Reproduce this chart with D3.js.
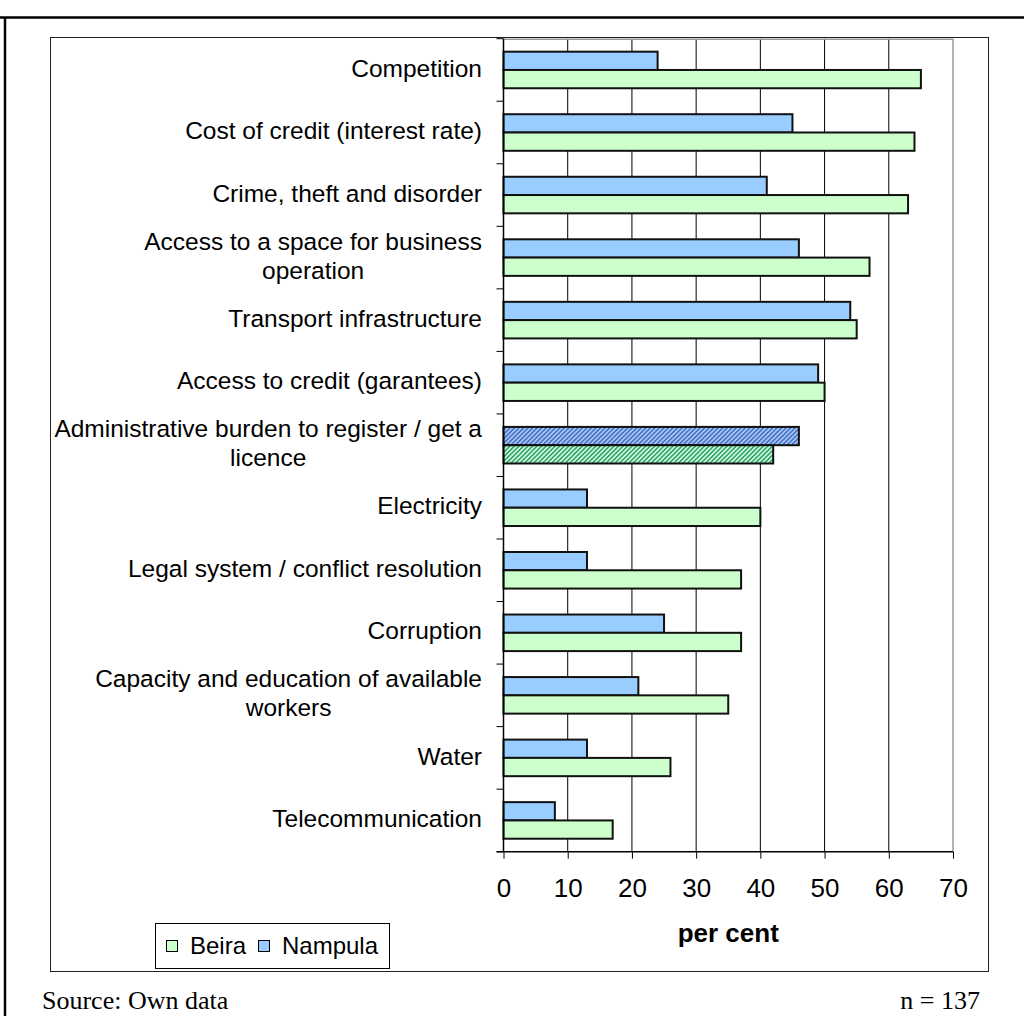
<!DOCTYPE html>
<html>
<head>
<meta charset="utf-8">
<script src="https://cdn.jsdelivr.net/npm/d3@7/dist/d3.min.js"></script>
<style>
  html, body { margin: 0; padding: 0; background: #fff; }
  svg { display: block; font-family: "Liberation Sans", Arial, sans-serif; }
</style>
</head>
<body>
<svg id="chart" width="1024" height="1016"></svg>
<script>
// Obstacles to doing business, share of respondents (per cent)
const categories = [
  "Competition",
  "Cost of credit (interest rate)",
  "Crime, theft and disorder",
  "Access to a space for business\noperation",
  "Transport infrastructure",
  "Access to credit (garantees)",
  "Administrative burden to register / get a\nlicence",
  "Electricity",
  "Legal system / conflict resolution",
  "Corruption",
  "Capacity and education of available\nworkers",
  "Water",
  "Telecommunication"
];
const nampula = [24, 45, 41, 46, 54, 49, 46, 13, 13, 25, 21, 13, 8];
const beira   = [65, 64, 63, 57, 55, 50, 42, 40, 37, 37, 35, 26, 17];
const xTicks  = [0, 10, 20, 30, 40, 50, 60, 70];
const seriesNames = ["Nampula", "Beira"];
const legendItems = ["Beira", "Nampula"];
const highlighted = "Administrative burden to register / get a\nlicence";

const colors = { Nampula: "#99CCFF", Beira: "#CCFFCC" };
const stripeColors = { Nampula: "#5468B8", Beira: "#2E9A78" };
const serif = "'Liberation Serif', 'Times New Roman', serif";

const svg = d3.select("#chart");

// page frame
svg.append("line").attr("x1", 0).attr("x2", 1024).attr("y1", 17.5).attr("y2", 17.5)
  .attr("stroke", "#000").attr("stroke-width", 2.5);
svg.append("line").attr("x1", 5).attr("x2", 5).attr("y1", 17).attr("y2", 1016)
  .attr("stroke", "#000").attr("stroke-width", 2.5);

// chart area box
svg.append("rect").attr("x", 50.5).attr("y", 37.5).attr("width", 938).attr("height", 934)
  .attr("fill", "#fff").attr("stroke", "#222").attr("stroke-width", 1);

// hatch patterns for the highlighted category
const defs = svg.append("defs");
seriesNames.forEach(s => {
  const p = defs.append("pattern").attr("id", "hatch-" + s)
    .attr("patternUnits", "userSpaceOnUse").attr("width", 3.2).attr("height", 3.2)
    .attr("patternTransform", "rotate(45)");
  p.append("rect").attr("width", 3.2).attr("height", 3.2).attr("fill", colors[s]);
  p.append("line").attr("x1", 0.8).attr("x2", 0.8).attr("y1", 0).attr("y2", 3.2)
    .attr("stroke", stripeColors[s]).attr("stroke-width", 1.5);
});

const x = d3.scaleLinear().domain([0, 70]).range([503.5, 953]);
const y = d3.scaleBand().domain(categories).range([38.7, 851.7]).padding(0);
const inner = d3.scaleBand().domain(seriesNames).range([0, y.bandwidth()])
  .paddingInner(0).paddingOuter(0.71);

// vertical gridlines
svg.append("g").selectAll("line").data(xTicks.filter(t => t > 0 && t < 70)).join("line")
  .attr("x1", d => x(d)).attr("x2", d => x(d))
  .attr("y1", 38.7).attr("y2", 851.7)
  .attr("stroke", "#000").attr("stroke-width", 1);

// plot area border (top and right)
svg.append("path")
  .attr("d", `M${x(0)},39.2H${x(70)}V851.7`)
  .attr("fill", "none").attr("stroke", "#9a9a9a").attr("stroke-width", 1.5);

// bars
const rows = categories.map((c, i) => ({ cat: c, Nampula: nampula[i], Beira: beira[i] }));
const g = svg.append("g");
rows.forEach(r => {
  seriesNames.forEach(s => {
    g.append("rect")
      .attr("x", x(0))
      .attr("y", y(r.cat) + inner(s))
      .attr("width", x(r[s]) - x(0))
      .attr("height", inner.bandwidth())
      .attr("fill", r.cat === highlighted ? `url(#hatch-${s})` : colors[s])
      .attr("stroke", "#111").attr("stroke-width", 2);
  });
});

// y axis line and ticks between categories
svg.append("line").attr("x1", x(0)).attr("x2", x(0)).attr("y1", 38.7).attr("y2", 851.7)
  .attr("stroke", "#000").attr("stroke-width", 1.5);
const bounds = categories.map(c => y(c)).concat([851.7]);
svg.append("g").selectAll("line").data(bounds).join("line")
  .attr("x1", x(0) - 7).attr("x2", x(0))
  .attr("y1", d => d).attr("y2", d => d)
  .attr("stroke", "#000").attr("stroke-width", 1);

// x axis
const xAxis = d3.axisBottom(x).tickValues(xTicks).tickSize(7).tickPadding(20);
const ax = svg.append("g").attr("transform", "translate(0,851.7)").call(xAxis);
ax.attr("font-family", null).attr("font-size", null);
ax.select(".domain").attr("stroke", "#000").attr("stroke-width", 1.5)
  .attr("d", `M${x(0) - 7},0H${x(70)}`);
ax.selectAll(".tick line").attr("stroke", "#000").attr("stroke-width", 1);
ax.selectAll(".tick text").attr("font-size", 26).attr("fill", "#000");

// category labels: right-aligned block, multi-line labels centred within the block
const labelRight = 482;
const lineH = 29;
const labelSize = 24.5;
categories.forEach(c => {
  const lines = c.split("\n");
  const cy = y(c) + y.bandwidth() / 2;
  const t = svg.append("text").attr("font-size", labelSize).attr("fill", "#000");
  if (lines.length === 1) {
    t.attr("x", labelRight).attr("y", cy).attr("dy", "0.27em")
      .attr("text-anchor", "end").text(c);
  } else {
    // measure the widest line to centre the block
    const tmp = svg.append("text").attr("font-size", labelSize).text(lines[0]);
    const w = Math.max(...lines.map(l => { tmp.text(l); return tmp.node().getComputedTextLength(); }));
    tmp.remove();
    const cx = labelRight - w / 2;
    const top = cy - (lines.length - 1) * lineH / 2;
    t.attr("text-anchor", "middle");
    lines.forEach((l, k) => {
      t.append("tspan").attr("x", cx).attr("y", top + k * lineH).attr("dy", "0.27em").text(l);
    });
  }
});

// axis title
svg.append("text").attr("x", (x(0) + x(70)) / 2).attr("y", 942)
  .attr("text-anchor", "middle").attr("font-size", 26).attr("font-weight", "bold")
  .attr("fill", "#000").text("per cent");

// legend
const lg = svg.append("g");
lg.append("rect").attr("x", 155.5).attr("y", 923.5).attr("width", 234).attr("height", 45)
  .attr("fill", "#fff").attr("stroke", "#000").attr("stroke-width", 1);
const legendX = { Beira: 166, Nampula: 258 };
legendItems.forEach(s => {
  lg.append("rect").attr("x", legendX[s] + 0.5).attr("y", 940.5).attr("width", 11).attr("height", 11)
    .attr("fill", colors[s]).attr("stroke", "#000").attr("stroke-width", 1);
  lg.append("text").attr("x", legendX[s] + 24).attr("y", 954).attr("font-size", 24)
    .attr("fill", "#000").text(s);
});

// footer
svg.append("text").attr("x", 42).attr("y", 1009)
  .style("font-family", serif).attr("font-size", 26).attr("fill", "#000")
  .text("Source: Own data");
svg.append("text").attr("x", 980).attr("y", 1009).attr("text-anchor", "end")
  .style("font-family", serif).attr("font-size", 26).attr("fill", "#000")
  .text("n = 137");
</script>
</body>
</html>
